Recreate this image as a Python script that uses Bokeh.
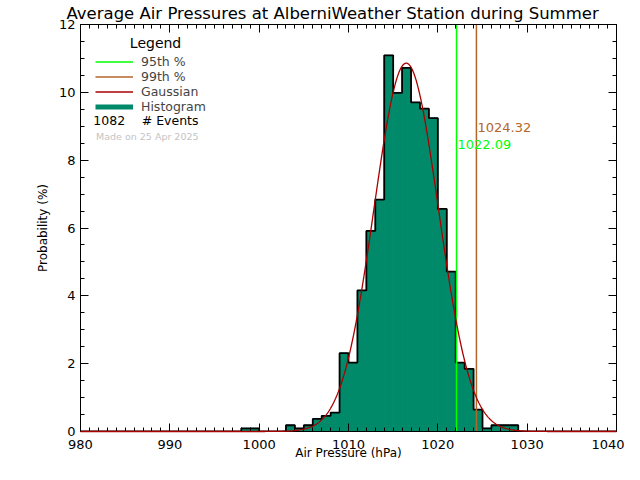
import numpy as np
from bokeh.plotting import figure
from bokeh.models import (LinearAxis, SingleIntervalTicker, Label, Legend,
                          LegendItem, Range1d, Title)
from bokeh.embed import file_html
from bokeh.resources import INLINE

# ---------------- data ----------------
pressure_bins = [998, 999, 1003, 1004, 1005, 1006, 1007, 1008, 1009, 1010,
                 1011, 1012, 1013, 1014, 1015, 1016, 1017, 1018, 1019, 1020,
                 1021, 1022, 1023, 1024, 1025, 1026, 1027, 1028]
bin_counts = [1, 1, 2, 1, 2, 4, 5, 6, 25, 22,
              45, 64, 74, 120, 108, 116, 105, 103, 100, 71,
              51, 22, 20, 7, 1, 2, 2, 2]
bin_width = 1
n_events = 1082
p95 = 1022.09
p99 = 1024.32
gauss_peak = 10.86
gauss_center = 1016.46
gauss_sigma = 3.6
x_min, x_max = 980, 1040
y_min, y_max = 0, 12

title_text = "Average Air Pressures at AlberniWeather Station during Summer"
x_label = "Air Pressure (hPa)"
y_label = "Probability (%)"
made_on = "Made on 25 Apr 2025"

FONT = "DejaVu Sans"
TEAL = "#008a6a"
RED = "#a80000"
BROWN = "#b4662a"
GREEN = "#00ff00"

# -------------- derived --------------
bins = np.array(pressure_bins, dtype=float)
pct = np.array(bin_counts, dtype=float) / n_events * 100.0

edges = np.arange(x_min, x_max + bin_width, bin_width, dtype=float)
full = np.zeros(len(edges) - 1)
for b, v in zip(bins, pct):
    full[int(b - x_min)] = v
step_x = np.repeat(edges, 2)[1:-1]
step_y = np.repeat(full, 2)

gx = np.linspace(x_min, x_max, 1201)
gy = gauss_peak * np.exp(-(gx - gauss_center) ** 2 / (2 * gauss_sigma ** 2))

# -------------- figure --------------
p = figure(frame_width=536, frame_height=407,
           min_border_left=80, min_border_right=8,
           min_border_top=24, min_border_bottom=33,
           x_range=Range1d(x_min, x_max), y_range=Range1d(y_min, y_max),
           output_backend="svg", toolbar_location=None, title=None,
           x_axis_label=x_label, y_axis_label=y_label)
p.outline_line_color = None
p.xgrid.visible = False
p.ygrid.visible = False
p.background_fill_color = "white"
p.border_fill_color = "white"

p.xaxis.ticker = SingleIntervalTicker(interval=10, num_minor_ticks=10)
p.yaxis.ticker = SingleIntervalTicker(interval=2, num_minor_ticks=4)

def style_axis(ax, labels=True):
    ax.axis_line_color = "black"
    ax.axis_line_width = 1
    ax.major_tick_line_color = "black"
    ax.minor_tick_line_color = "black"
    ax.major_tick_in = 8
    ax.major_tick_out = 0
    ax.minor_tick_in = 4
    ax.minor_tick_out = 0
    ax.major_label_text_font = FONT
    ax.major_label_text_color = "black"
    ax.axis_label_text_font = FONT
    ax.axis_label_text_font_style = "normal"
    ax.axis_label_text_color = "black"
    if not labels:
        ax.major_label_text_font_size = "1px"
        ax.major_label_text_color = None
        ax.major_label_standoff = 0

for ax in p.xaxis:
    style_axis(ax)
    ax.major_label_text_font_size = "13px"
    ax.major_label_standoff = 8
    ax.axis_label_text_font_size = "12px"
    ax.axis_label_standoff = -6
for ax in p.yaxis:
    style_axis(ax)
    ax.major_label_text_font_size = "13px"
    ax.major_label_standoff = 5
    ax.axis_label_text_font_size = "12px"
    ax.axis_label_standoff = 6

top_ax = LinearAxis(ticker=SingleIntervalTicker(interval=10, num_minor_ticks=10))
style_axis(top_ax, labels=False)
p.add_layout(top_ax, "above")
right_ax = LinearAxis(ticker=SingleIntervalTicker(interval=2, num_minor_ticks=4))
style_axis(right_ax, labels=False)
p.add_layout(right_ax, "right")

# title
p.add_layout(Title(text=title_text, align="left", offset=-14, standoff=3,
                   text_font=FONT, text_font_size="16.5px",
                   text_font_style="normal", text_color="black"), "above")

# histogram
p.quad(left=bins, right=bins + bin_width, bottom=0, top=pct,
       fill_color=TEAL, line_color=TEAL, line_width=1)
p.line(step_x, step_y, line_color="black", line_width=1.8)
# zero-length renderer used only for the legend swatch
hist_leg = p.line(x=[x_min, x_min], y=[y_min, y_min], line_color=TEAL,
                  line_width=5, line_cap="butt")

# percentile lines
r95 = p.line([p95, p95], [y_min, y_max], line_color=GREEN, line_width=1.5)
r99 = p.line([p99, p99], [y_min, y_max], line_color=BROWN, line_width=1.5)

# gaussian
rg = p.line(gx, gy, line_color=RED, line_width=1.3, level="overlay")

# percentile labels
p.add_layout(Label(x=p99, y=8.95, x_offset=1, text=f"{p99:.2f}",
                   text_font=FONT, text_font_size="13px", text_color=BROWN,
                   text_baseline="middle", text_align="left"))
p.add_layout(Label(x=p95, y=8.45, x_offset=1, text=f"{p95:.2f}",
                   text_font=FONT, text_font_size="13px", text_color=GREEN,
                   text_baseline="middle", text_align="left"))

# legend
legend = Legend(items=[LegendItem(label="95th %", renderers=[r95]),
                       LegendItem(label="99th %", renderers=[r99]),
                       LegendItem(label="Gaussian", renderers=[rg]),
                       LegendItem(label="Histogram", renderers=[hist_leg])],
                location=(15, 317), orientation="vertical",
                glyph_width=38, glyph_height=15, label_height=15,
                label_standoff=8, spacing=0, padding=0, margin=0,
                label_text_font=FONT, label_text_font_size="12.5px",
                border_line_color=None, background_fill_alpha=0)
p.add_layout(legend, "center")

p.add_layout(Label(x=988.4, y=11.45, text="Legend", text_font=FONT,
                   text_font_size="14px", text_align="center",
                   text_baseline="middle", text_color="black"))
p.add_layout(Label(x=981.43, y=9.16, text=str(n_events), text_font=FONT,
                   text_font_size="12.5px", text_align="left",
                   text_baseline="middle", text_color="black"))
p.add_layout(Label(x=986.85, y=9.16, text="# Events", text_font=FONT,
                   text_font_size="12.5px", text_align="left",
                   text_baseline="middle", text_color="black"))
p.add_layout(Label(x=981.74, y=8.70, text=made_on, text_font=FONT,
                   text_font_size="9.5px", text_align="left",
                   text_baseline="middle", text_color="#c4c4c4"))

open("out.html", "w").write(file_html(p, INLINE))
